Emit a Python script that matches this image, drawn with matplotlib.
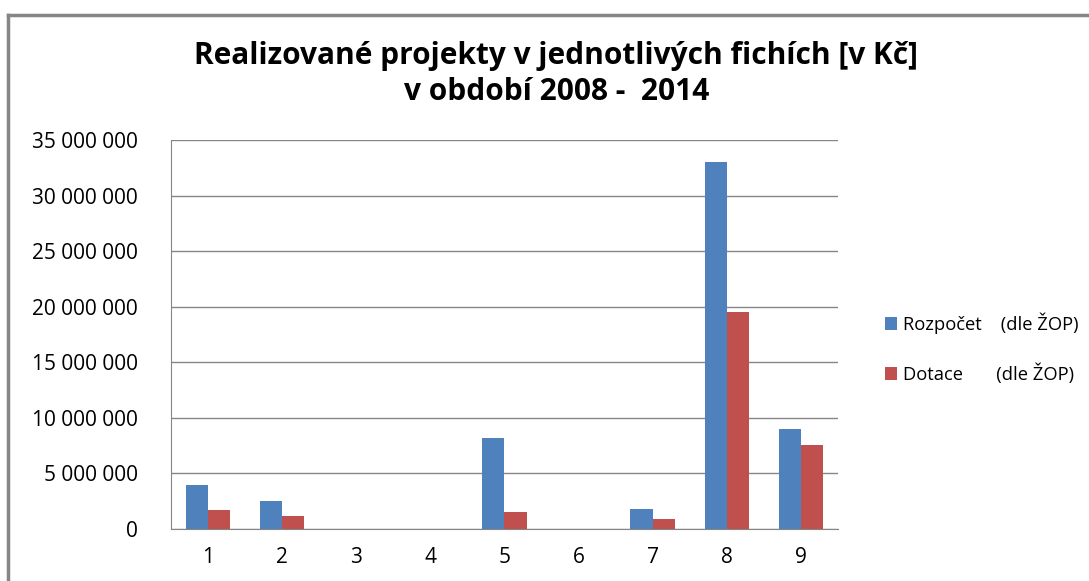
import numpy as np
import matplotlib
matplotlib.use('Agg')
import matplotlib.pyplot as plt
from matplotlib.lines import Line2D

categories = ['1', '2', '3', '4', '5', '6', '7', '8', '9']
rozpocet = [4000000, 2500000, 0, 0, 8200000, 0, 1800000, 33000000, 9000000]
dotace = [1700000, 1150000, 0, 0, 1500000, 0, 900000, 19500000, 7550000]
series_names = ['Rozpočet    (dle ŽOP)', 'Dotace       (dle ŽOP)']
yticks = [0, 5000000, 10000000, 15000000, 20000000, 25000000, 30000000, 35000000]

plt.rcParams['font.family'] = ['Open Sans', 'DejaVu Sans']

fig = plt.figure(figsize=(10.89, 5.81), dpi=100)
ax = fig.add_axes([0.157, 0.0895, 0.6125, 0.6695])

x = np.arange(len(categories))
w = 0.3
ax.bar(x - w / 2, rozpocet, w, color='#4F81BD', label=series_names[0])
ax.bar(x + w / 2, dotace, w, color='#C0504D', label=series_names[1])

ax.set_xlim(-0.5, len(categories) - 0.5)
ax.set_ylim(0, 35000000)
ax.set_yticks(yticks)
ax.set_yticklabels([f'{v:,}'.replace(',', ' ') for v in yticks], fontsize=15)
ax.set_xticks(x)
ax.set_xticklabels(categories, fontsize=15)
ax.tick_params(axis='both', length=0)
ax.tick_params(axis='y', pad=24)
ax.tick_params(axis='x', pad=13)
ax.grid(axis='y', color='#868686', linewidth=1)
ax.set_axisbelow(True)
for s in ['top', 'right']:
    ax.spines[s].set_visible(False)
ax.spines['left'].set_color('#868686')
ax.spines['bottom'].set_color('#868686')

fig.text(0.511, 0.872, 'Realizované projekty v jednotlivých fichích [v Kč]\nv období 2008 -  2014',
         ha='center', va='center', fontsize=21.5, fontweight='bold', linespacing=1.25)

ax.legend(loc='center left', bbox_to_anchor=(1.045, 0.465), frameon=False, fontsize=13.2,
          handlelength=0.7, handleheight=0.7, handletextpad=0.3, labelspacing=1.65)

# chart frame (top and left edges visible)
fig.add_artist(Line2D([0.0073, 0.0073], [0, 0.975], color='#868686', linewidth=2.5))
fig.add_artist(Line2D([0.0073, 1.0], [0.975, 0.975], color='#868686', linewidth=2.5))

fig.savefig('out.png', dpi=100)
